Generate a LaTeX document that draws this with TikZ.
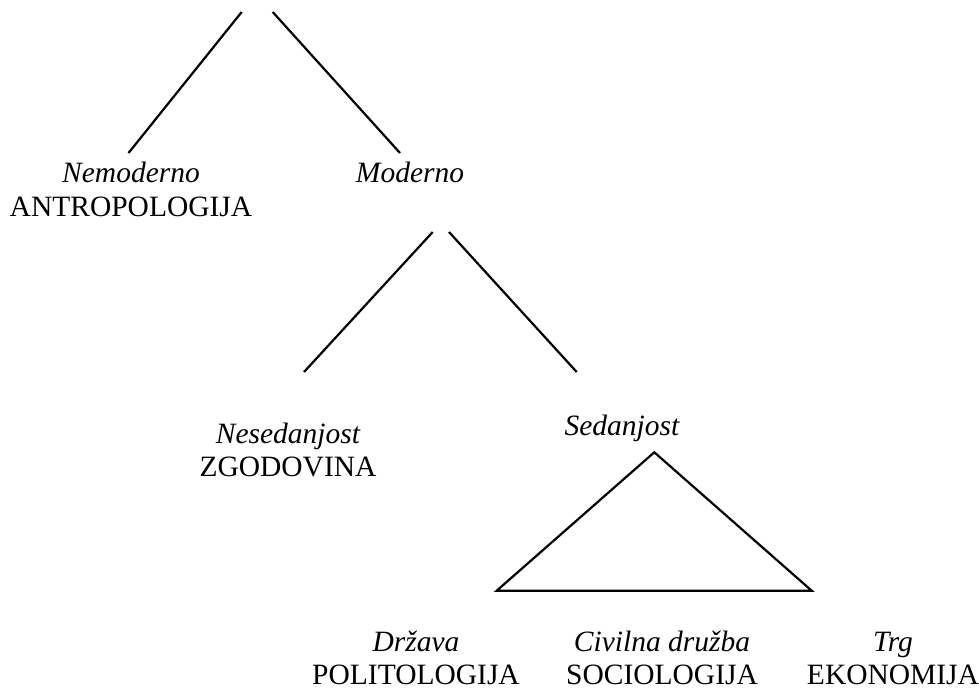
\documentclass[tikz,border=0pt]{standalone}
\usepackage{fontspec}
\setmainfont{Liberation Serif}
\begin{document}
\begin{tikzpicture}[x=1pt,y=-1pt,
  lbl/.style={inner sep=0pt,anchor=base,font=\fontsize{29.5}{34}\selectfont},
  ilbl/.style={lbl,font=\fontsize{29.5}{34}\selectfont\itshape},
  branch/.style={line width=2.2pt,line cap=butt}]
\useasboundingbox (0,0) rectangle (979,690);
% coordinates of the branches
\coordinate (t1) at (241.7,12);
\coordinate (t2) at (272.7,12);
\coordinate (b1) at (128.5,153);
\coordinate (b2) at (400,153);
\coordinate (m1) at (432.7,232);
\coordinate (m2) at (449,232);
\coordinate (n1) at (304,372);
\coordinate (n2) at (576.7,372);
\coordinate (apex) at (654.3,452.3);
\coordinate (bl) at (496.7,590.7);
\coordinate (br) at (811.7,590.7);
% labels
\node[ilbl] (nemo) at (131,182) {Nemoderno};
\node[lbl] (antro) at (131,216.5) {ANTROPOLOGIJA};
\node[ilbl] (mod) at (410,182) {Moderno};
\node[ilbl] (nesed) at (288,443) {Nesedanjost};
\node[lbl] (zgod) at (288,476) {ZGODOVINA};
\node[ilbl] (sed) at (622,435) {Sedanjost};
\node[ilbl] (drz) at (416,651) {Država};
\node[lbl] (pol) at (416,684) {POLITOLOGIJA};
\node[ilbl] (civ) at (662,651) {Civilna družba};
\node[lbl] (soc) at (662,684) {SOCIOLOGIJA};
\node[ilbl] (trg) at (893,651) {Trg};
\node[lbl] (eko) at (893,684) {EKONOMIJA};
% branches
\draw[branch] (t1) -- (b1);
\draw[branch] (t2) -- (b2);
\draw[branch] (m1) -- (n1);
\draw[branch] (m2) -- (n2);
\draw[branch,line join=miter] (apex) -- (bl) -- (br) -- cycle;
\end{tikzpicture}
\end{document}
